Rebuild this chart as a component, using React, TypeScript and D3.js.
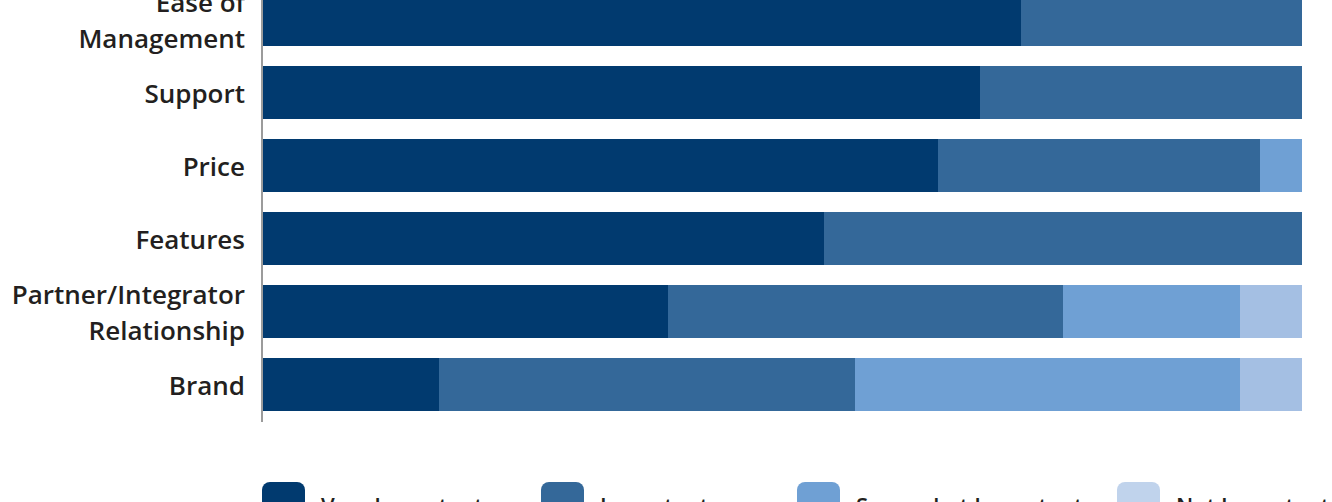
import React from "react";
import * as d3 from "d3";

const categories = [
  "Ease of Management",
  "Support",
  "Price",
  "Features",
  "Partner/Integrator Relationship",
  "Brand",
];
const labelLines = [
  ["Ease of", "Management"],
  ["Support"],
  ["Price"],
  ["Features"],
  ["Partner/Integrator", "Relationship"],
  ["Brand"],
];
const veryImportant = [73, 69, 65, 54, 39, 17];
const important = [27, 31, 31, 46, 38, 40];
const somewhatImportant = [0, 0, 4, 0, 17, 37];
const notImportant = [0, 0, 0, 0, 6, 6];
const seriesKeys = ["very", "important", "somewhat", "not"];
const seriesNames = ["Very Important", "Important", "Somewhat Important", "Not Important"];
const barColors = ["#013a6f", "#346899", "#6fa0d4", "#a4bfe3"];
const legendColors = ["#013a6f", "#346899", "#6fa0d4", "#c0d3ec"];
const legendX = [262, 541, 797, 1117];

const W = 1332;
const H = 502;
const FONT = "'Open Sans', Lato, sans-serif";

export default function App() {
  const rows = categories.map((c, i) => ({
    category: c,
    very: veryImportant[i],
    important: important[i],
    somewhat: somewhatImportant[i],
    not: notImportant[i],
  }));
  const stack = d3.stack<any>().keys(seriesKeys);
  const layers = stack(rows);

  const x = d3.scaleLinear().domain([0, 100]).range([262, 1302]);
  const y = d3
    .scaleBand<string>()
    .domain(categories)
    .range([-17, 421])
    .paddingInner(0.274)
    .paddingOuter(0.137);

  const lineH = 36;

  return (
    <svg
      width={W}
      height={H}
      style={{ position: "absolute", left: 0, top: 0, background: "#fff" }}
      fontFamily={FONT}
    >
      {layers.map((layer, li) => (
        <g key={layer.key} fill={barColors[li]} shapeRendering="crispEdges">
          {layer.map((d, i) =>
            d[1] - d[0] > 0 ? (
              <rect
                key={i}
                x={x(d[0])}
                y={y(categories[i])}
                width={x(d[1]) - x(d[0])}
                height={y.bandwidth()}
              />
            ) : null
          )}
        </g>
      ))}
      <line x1={262} x2={262} y1={-17} y2={422} stroke="#9b9b9b" strokeWidth={2} />
      {categories.map((c, i) => {
        const lines = labelLines[i];
        const cy = (y(c) as number) + y.bandwidth() / 2;
        const start = cy - ((lines.length - 1) * lineH) / 2 + 10;
        return (
          <text
            key={c}
            x={245}
            textAnchor="end"
            fontSize={26}
            fontWeight={600}
            fill="#231f20"
          >
            {lines.map((l, j) => (
              <tspan key={j} x={245} y={start + j * lineH}>
                {l}
              </tspan>
            ))}
          </text>
        );
      })}
      {seriesNames.map((n, i) => (
        <g key={n} transform={`translate(${legendX[i]},482)`}>
          <rect width={43} height={43} rx={8} fill={legendColors[i]} />
          <text x={59} y={32} fontSize={22} fontWeight={600} fill="#231f20">
            {n}
          </text>
        </g>
      ))}
    </svg>
  );
}
